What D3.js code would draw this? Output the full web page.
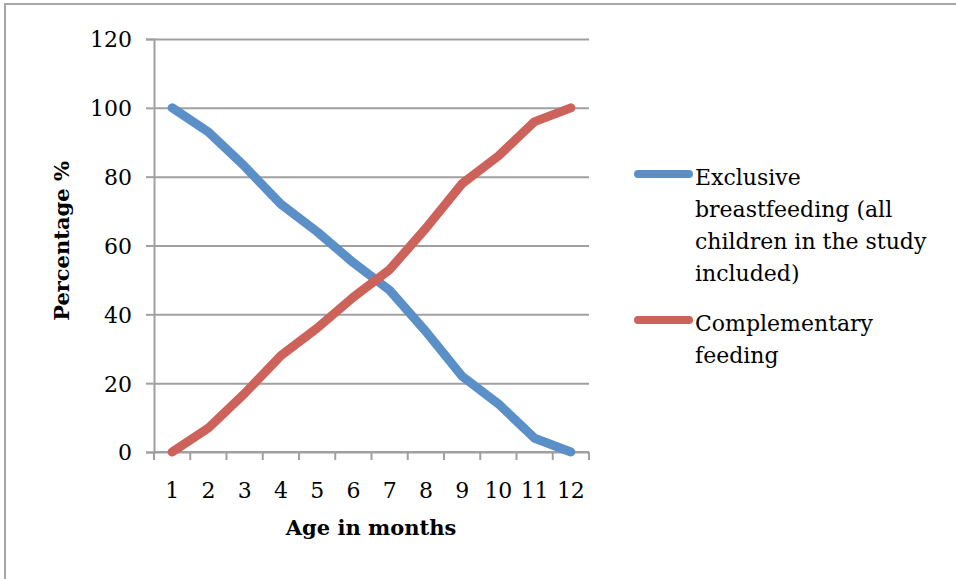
<!DOCTYPE html>
<html>
<head>
<meta charset="utf-8">
<script src="https://cdn.jsdelivr.net/npm/d3@7"></script>
<style>
  html, body { margin: 0; padding: 0; background: #fff; }
  svg { display: block; }
</style>
</head>
<body>
<svg id="chart" width="956" height="579"></svg>
<script>
// Age in months (categories)
const months = ["1", "2", "3", "4", "5", "6", "7", "8", "9", "10", "11", "12"];
// Percentage of children exclusively breastfed at each month
const exclusiveBF = [100, 93, 83, 72, 64, 55, 47, 35, 22, 14, 4, 0];
// Percentage of children receiving complementary feeding at each month
const complementary = [0, 7, 17, 28, 36, 45, 53, 65, 78, 86, 96, 100];
const yTicks = [0, 20, 40, 60, 80, 100, 120];
const seriesNames = [
  ["Exclusive", "breastfeeding (all", "children in the study", "included)"],
  ["Complementary", "feeding"]
];
const colors = ["#5B8FC8", "#CD625A"];

const svg = d3.select("#chart");
const font = "'DejaVu Serif', 'Liberation Serif', serif";

// outer frame
svg.append("rect")
  .attr("x", 5).attr("y", 4)
  .attr("width", 1000).attr("height", 700)
  .attr("fill", "#fff")
  .attr("stroke", "#a6a6a6").attr("stroke-width", 2);

const plot = { left: 154, right: 589, top: 39, bottom: 452 };

const x = d3.scaleBand().domain(months).range([plot.left, plot.right]);
const y = d3.scaleLinear().domain([0, 120]).range([plot.bottom, plot.top]);

const grid = "#a0a0a0";

// horizontal gridlines with left tick marks
const yAxis = d3.axisLeft(y).tickValues(yTicks).tickSize(8).tickPadding(14);
const gy = svg.append("g").attr("transform", `translate(${plot.left},0)`).call(yAxis);
gy.select(".domain").attr("stroke", grid).attr("stroke-width", 2);
gy.selectAll(".tick line").attr("stroke", grid).attr("stroke-width", 2);
gy.selectAll(".tick text")
  .attr("font-family", font).attr("font-size", 22).attr("fill", "#000")
  .attr("dy", "0.36em");
gy.selectAll(".tick").append("line")
  .attr("x1", 0).attr("x2", plot.right - plot.left)
  .attr("stroke", grid).attr("stroke-width", 2);

// x axis with ticks between categories
const gx = svg.append("g").attr("transform", `translate(0,${plot.bottom})`);
gx.append("line")
  .attr("x1", plot.left).attr("x2", plot.right)
  .attr("stroke", grid).attr("stroke-width", 2);
const bounds = months.map(m => x(m)).concat([plot.right]);
gx.selectAll("line.tk").data(bounds).enter().append("line")
  .attr("class", "tk")
  .attr("x1", d => d).attr("x2", d => d)
  .attr("y1", 0).attr("y2", 8)
  .attr("stroke", grid).attr("stroke-width", 2);
gx.selectAll("text").data(months).enter().append("text")
  .attr("x", d => x(d) + x.bandwidth() / 2)
  .attr("y", 46)
  .attr("text-anchor", "middle")
  .attr("font-family", font).attr("font-size", 22).attr("fill", "#000")
  .text(d => d);

// axis titles
svg.append("text")
  .attr("x", 371).attr("y", 535)
  .attr("text-anchor", "middle")
  .attr("font-family", font).attr("font-size", 21).attr("font-weight", "bold")
  .text("Age in months");
svg.append("text")
  .attr("transform", "translate(69,241) rotate(-90)")
  .attr("text-anchor", "middle")
  .attr("font-family", font).attr("font-size", 21).attr("font-weight", "bold")
  .text("Percentage %");

// series lines
const line = d3.line()
  .x((d, i) => x(months[i]) + x.bandwidth() / 2)
  .y(d => y(d));

[exclusiveBF, complementary].forEach((vals, k) => {
  svg.append("path")
    .datum(vals)
    .attr("d", line)
    .attr("fill", "none")
    .attr("stroke", colors[k])
    .attr("stroke-width", 9)
    .attr("stroke-linejoin", "round")
    .attr("stroke-linecap", "round");
});

// legend
const legendY = [174, 320];
seriesNames.forEach((lines, k) => {
  const g = svg.append("g");
  g.append("line")
    .attr("x1", 638).attr("x2", 689)
    .attr("y1", legendY[k]).attr("y2", legendY[k])
    .attr("stroke", colors[k]).attr("stroke-width", 8)
    .attr("stroke-linecap", "round");
  lines.forEach((t, j) => {
    g.append("text")
      .attr("x", 695)
      .attr("y", legendY[k] + 11 + j * 32)
      .attr("font-family", font).attr("font-size", 22).attr("fill", "#000")
      .text(t);
  });
});
</script>
</body>
</html>
